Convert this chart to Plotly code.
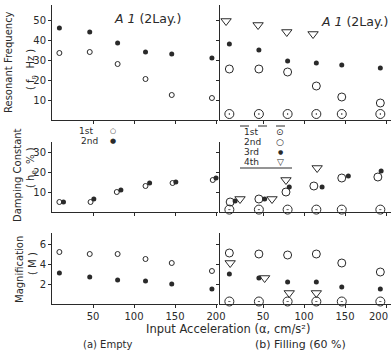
import plotly.graph_objects as go

W, H = 391, 351

# ---------------- data ----------------
accel_empty = [9, 46, 80, 114, 146, 195]
freq_empty_1st = [33.5, 34, 28, 20.5, 12.5, 11]
freq_empty_2nd = [46, 44, 38.5, 34, 33, 31]

damp_empty_x_1st = [9, 47, 79, 114, 147, 196]
damp_empty_x_2nd = [14, 51, 84, 119, 151, 200]
damp_empty_1st = [5, 5, 10, 13, 14.5, 16]
damp_empty_2nd = [5, 6.5, 11, 14.5, 15, 17]

mag_empty_1st = [5.2, 5.0, 5.0, 4.5, 4.1, 3.3]
mag_empty_2nd = [3.1, 2.7, 2.4, 2.3, 2.0, 1.5]

accel_fill = [9, 45, 80, 115, 146, 193]
accel_fill_4th = [5, 44, 79, 111]
freq_fill_1st = [3, 3, 3, 3, 3, 3]
freq_fill_2nd = [25.5, 25.5, 24, 17, 11.5, 8.5]
freq_fill_3rd = [38, 35, 29.5, 28.5, 27.5, 26]
freq_fill_4th = [49.5, 47.5, 44, 43]

damp_fill_x_2nd = [10, 45, 78, 112, 146, 190]
damp_fill_x_3rd = [16, 52, 82, 122, 154, 194]
damp_fill_x_4th = [22, 61, 78, 116]
damp_fill_1st = [1.2, 1.2, 1.2, 1.2, 1.2, 1.2]
damp_fill_2nd = [5, 6.5, 10, 13, 17, 17.5]
damp_fill_3rd = [5.5, 6.5, 12.5, 12.5, 18, 20.5]
damp_fill_4th = [6.5, 6.5, 16, 22]

mag_fill_x_4th = [10, 52, 82, 115]
mag_fill_1st = [0.25, 0.25, 0.25, 0.25, 0.25, 0.25]
mag_fill_2nd = [5.1, 5.0, 4.9, 5.0, 4.1, 3.2]
mag_fill_3rd = [3.0, 2.6, 2.2, 2.2, 1.7, 1.5]
mag_fill_4th = [4.1, 2.6, 1.1, 1.1]

x_ticks = [50, 100, 150, 200]
freq_ticks = [10, 20, 30, 40, 50]
damp_ticks = [10, 20, 30]
mag_ticks = [2, 4, 6]

# ---------------- styles ----------------
INK = "#2a2a2a"
FONT = "DejaVu Sans"

STY = {
    "e1": dict(symbol="circle-open", size=5, color=INK, line=dict(width=1, color=INK)),
    "e2": dict(symbol="circle", size=5, color=INK),
    "f1": dict(symbol="circle-open-dot", size=9, color=INK, line=dict(width=1, color=INK)),
    "f2": dict(symbol="circle-open", size=8, color=INK, line=dict(width=1, color=INK)),
    "f3": dict(symbol="circle", size=5, color=INK),
    "f4": dict(symbol="triangle-down-open", size=9, color=INK, line=dict(width=1, color=INK)),
}

fig = go.Figure()


def add(x, y, key, n):
    fig.add_trace(go.Scatter(
        x=x, y=y, mode="markers", marker=STY[key], cliponaxis=False,
        showlegend=False, xaxis="x" if n == 1 else f"x{n}", yaxis="y" if n == 1 else f"y{n}",
    ))


# top row: resonant frequency
add(accel_empty, freq_empty_1st, "e1", 1)
add(accel_empty, freq_empty_2nd, "e2", 1)
add(accel_fill, freq_fill_1st, "f1", 2)
add(accel_fill, freq_fill_2nd, "f2", 2)
add(accel_fill, freq_fill_3rd, "f3", 2)
add(accel_fill_4th, freq_fill_4th, "f4", 2)
# middle row: damping constant
add(damp_empty_x_1st, damp_empty_1st, "e1", 3)
add(damp_empty_x_2nd, damp_empty_2nd, "e2", 3)
add(accel_fill, damp_fill_1st, "f1", 4)
add(damp_fill_x_2nd, damp_fill_2nd, "f2", 4)
add(damp_fill_x_3rd, damp_fill_3rd, "f3", 4)
add(damp_fill_x_4th, damp_fill_4th, "f4", 4)
# bottom row: magnification
add(accel_empty, mag_empty_1st, "e1", 5)
add(accel_empty, mag_empty_2nd, "e2", 5)
add(accel_fill, mag_fill_1st, "f1", 6)
add(accel_fill, mag_fill_2nd, "f2", 6)
add(accel_fill, mag_fill_3rd, "f3", 6)
add(mag_fill_x_4th, mag_fill_4th, "f4", 6)


def px(x):
    return x / W


def py(y):
    return 1 - y / H


base = dict(showline=True, linecolor=INK, linewidth=1, ticks="outside", ticklen=3,
            tickwidth=1, tickcolor=INK, showgrid=False, zeroline=False,
            tickfont=dict(family=FONT, size=10, color=INK), automargin=False)

LEFT_X = dict(domain=[px(52), px(218)], range=[0, 202.4])
RIGHT_X = dict(domain=[px(220), 1.0], range=[-2.4, 206])
ROWS = [
    dict(domain=[py(120), py(5)], range=[0, 57.5], tickvals=freq_ticks),
    dict(domain=[py(212), py(142)], range=[0, 35], tickvals=damp_ticks),
    dict(domain=[py(304), py(233)], range=[0, 7.1], tickvals=mag_ticks),
]

layout = dict(width=W, height=H, margin=dict(l=0, r=0, t=0, b=0),
              paper_bgcolor="white", plot_bgcolor="white", showlegend=False)

n = 1
for r, row in enumerate(ROWS):
    for c in range(2):
        xs = dict(base, **(LEFT_X if c == 0 else RIGHT_X), tickvals=x_ticks,
                  showticklabels=(r == 2), anchor="y" if n == 1 else f"y{n}")
        ys = dict(base, **row, showticklabels=(c == 0),
                  anchor="x" if n == 1 else f"x{n}")
        layout["xaxis" if n == 1 else f"xaxis{n}"] = xs
        layout["yaxis" if n == 1 else f"yaxis{n}"] = ys
        n += 1

fig.update_layout(**layout)


def txt(x, y, s, size=10, angle=0, xanchor="center"):
    fig.add_annotation(x=px(x), y=py(y), xref="paper", yref="paper", text=s,
                       showarrow=False, textangle=angle, xanchor=xanchor, yanchor="middle",
                       font=dict(family=FONT, size=size, color=INK))


# panel titles
txt(147, 18, "<i>A 1</i> (2Lay.)", size=12.5)
txt(354, 21, "<i>A 1</i> (2Lay.)", size=12.5)

# y-axis titles
txt(9, 62, "Resonant Frequency", size=10, angle=-90)
txt(31, 70, "( f<sub>n</sub>  Hz )", size=10, angle=-90)
txt(17, 175, "Damping Constant", size=10, angle=-90)
txt(31, 168, "( h<sub>e</sub>  % )", size=10, angle=-90)
txt(19, 270, "Magnification", size=10, angle=-90)
txt(32, 264, "( M )", size=10, angle=-90)

# right-most x tick label of the filling panel, kept inside the page edge
txt(390, 316, str(x_ticks[-1]), size=10, xanchor="right")

# x-axis title and captions
txt(228, 329, "Input Acceleration (α, cm/s²)", size=11.5)
txt(107, 344, "(a) Empty", size=10)
txt(300, 344, "(b) Filling (60 %)", size=11)

# left legend
txt(77, 131, "1st", size=9, xanchor="left")
txt(113, 131, "○", size=7)
txt(79, 141, "2nd", size=9, xanchor="left")
txt(113, 141, "●", size=7)

# right legend
for i, (lab, sym) in enumerate([("1st", "⊙"), ("2nd", "○"), ("3rd", "●"), ("4th", "▽")]):
    txt(242, 132 + 10 * i, lab, size=9, xanchor="left")
    txt(280, 132 + 10 * i, sym, size=9 if sym != "●" else 6)

fig.add_shape(type="line", xref="paper", yref="paper", x0=px(240), x1=px(292),
              y0=py(126), y1=py(126), line=dict(color=INK, width=1, dash="dash"))
fig.add_shape(type="line", xref="paper", yref="paper", x0=px(240), x1=px(292),
              y0=py(168), y1=py(168), line=dict(color=INK, width=1))

fig.write_html("out.html")
